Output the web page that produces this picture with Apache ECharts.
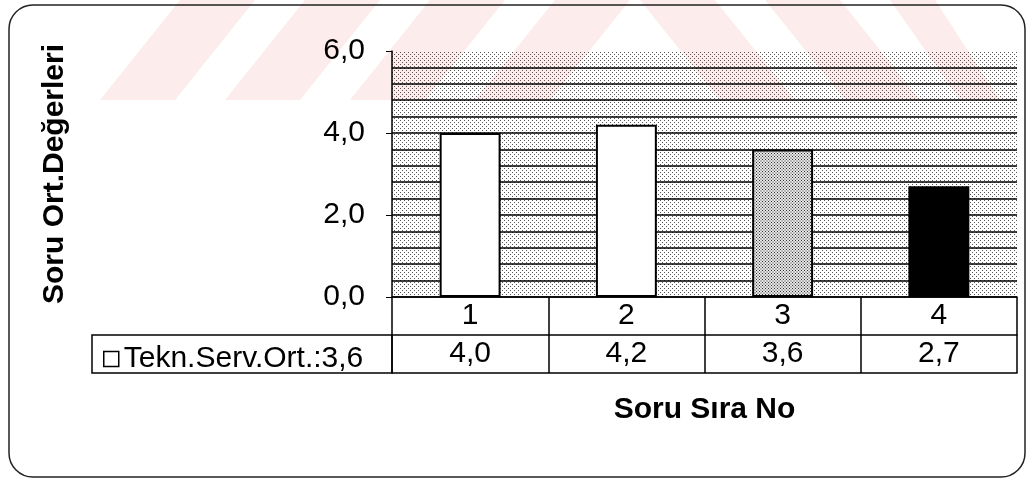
<!DOCTYPE html>
<html>
<head>
<meta charset="utf-8">
<script src="https://cdn.jsdelivr.net/npm/echarts@6/dist/echarts.min.js"></script>
<style>
  html, body { margin: 0; padding: 0; background: #fff; }
  #chart { width: 1027px; height: 479px; }
</style>
</head>
<body>
<div id="chart"></div>
<script>
  // veriler
  var categories = ['1', '2', '3', '4'];
  var values = [4.0, 4.2, 3.6, 2.7];
  var yMin = 0, yMax = 6, yStep = 2;

  function fmt(v) { return v.toFixed(1).replace('.', ','); }
  var avg = values.reduce(function (a, b) { return a + b; }, 0) / values.length;
  var seriesName = 'Tekn.Serv.Ort.:' + fmt(avg);

  // nokta desenleri
  function dots(size, dot, bg) {
    var c = document.createElement('canvas');
    c.width = c.height = size;
    var ctx = c.getContext('2d');
    ctx.fillStyle = bg;
    ctx.fillRect(0, 0, size, size);
    ctx.fillStyle = dot;
    ctx.fillRect(0, 0, 1, 1);
    ctx.fillRect(size / 2, size / 2, 1, 1);
    return { image: c, repeat: 'repeat' };
  }
  var bgPattern = dots(4, '#555', '#fff');
  var barPattern = dots(3, '#333', '#e6e6e6');

  var barColors = ['#fff', '#fff', barPattern, '#000'];
  var font = "'Liberation Sans', Arial, sans-serif";
  var pink = 'rgba(225,40,40,0.09)';

  var chart = echarts.init(document.getElementById('chart'));
  var option = {
    animation: false,
    textStyle: { fontFamily: font },
    grid: {
      left: 392, right: 10, top: 51, bottom: 182,
      show: true, backgroundColor: bgPattern, borderWidth: 0
    },
    legend: {
      data: [seriesName],
      left: 98, top: 339,
      icon: 'rect', itemWidth: 15, itemHeight: 15, itemGap: 6,
      itemStyle: { color: '#fff', borderColor: '#000', borderWidth: 1.5 },
      textStyle: { color: '#000', fontSize: 30, fontFamily: font }
    },
    xAxis: [{
      type: 'category',
      data: categories,
      name: 'Soru Sıra No',
      nameLocation: 'middle',
      nameGap: 98,
      nameTextStyle: { color: '#000', fontSize: 30, fontWeight: 'bold', fontFamily: font },
      axisLine: { lineStyle: { color: '#000', width: 1.5 } },
      axisTick: { show: true, length: 76, lineStyle: { color: '#000', width: 1.5 } },
      axisLabel: { color: '#000', fontSize: 30, margin: 4 },
      splitLine: { show: false }
    }, {
      type: 'category',
      position: 'bottom',
      offset: 38,
      data: values.map(fmt),
      axisLine: { lineStyle: { color: '#000', width: 1.5 } },
      axisTick: { show: false },
      axisLabel: { color: '#000', fontSize: 30, margin: 4 }
    }, {
      type: 'category',
      position: 'bottom',
      offset: 76,
      data: categories,
      axisLine: { lineStyle: { color: '#000', width: 1.5 } },
      axisTick: { show: false },
      axisLabel: { show: false }
    }],
    yAxis: {
      type: 'value',
      min: yMin, max: yMax, interval: yStep,
      name: 'Soru Ort.Değerleri',
      nameLocation: 'middle',
      nameRotate: 90,
      nameGap: 322,
      nameTextStyle: { color: '#000', fontSize: 30, fontWeight: 'bold', fontFamily: font },
      axisLine: { show: true, lineStyle: { color: '#000', width: 1.5 } },
      axisTick: { show: true, length: 6, lineStyle: { color: '#000' } },
      axisLabel: { color: '#000', fontSize: 30, margin: 27, formatter: fmt },
      splitLine: { show: true, showMaxLine: false, lineStyle: { color: '#000', width: 1.5 } },
      minorTick: { show: false, splitNumber: 5 },
      minorSplitLine: { show: true, lineStyle: { color: '#000', width: 1.5 } }
    },
    series: [{
      name: seriesName,
      type: 'bar',
      barWidth: '39%',
      itemStyle: { color: '#fff', borderColor: '#000', borderWidth: 2 },
      data: values.map(function (v, i) {
        return { value: v, itemStyle: { color: barColors[i] } };
      }),
      z: 3
    }],
    graphic: [
      // lejant hücresi
      { type: 'rect', shape: { x: 92, y: 335, width: 300, height: 38 },
        style: { fill: 'none', stroke: '#000', lineWidth: 1.5 }, z: 1 },
      // dış çerçeve
      { type: 'rect', shape: { x: 9, y: 5, width: 1016, height: 472, r: 24 },
        style: { fill: 'none', stroke: '#222', lineWidth: 1.5 }, z: 1 },
      // filigran
      { type: 'group', silent: true, z: 100, children: [
        { type: 'polygon', shape: { points: [[100, 100], [175, 100], [255, 0], [180, 0]] }, style: { fill: pink } },
        { type: 'polygon', shape: { points: [[225, 100], [300, 100], [380, 0], [305, 0]] }, style: { fill: pink } },
        { type: 'polygon', shape: { points: [[350, 100], [425, 100], [505, 0], [430, 0]] }, style: { fill: pink } },
        { type: 'polygon', shape: { points: [[475, 100], [550, 100], [630, 0], [555, 0]] }, style: { fill: pink } },
        { type: 'polygon', shape: { points: [[720, 100], [795, 100], [715, 0], [640, 0]] }, style: { fill: pink } },
        { type: 'polygon', shape: { points: [[845, 100], [920, 100], [840, 0], [765, 0]] }, style: { fill: pink } },
        { type: 'polygon', shape: { points: [[960, 100], [1000, 100], [935, 0], [890, 0]] }, style: { fill: pink } }
      ] }
    ]
  };
  chart.setOption(option);
</script>
</body>
</html>
